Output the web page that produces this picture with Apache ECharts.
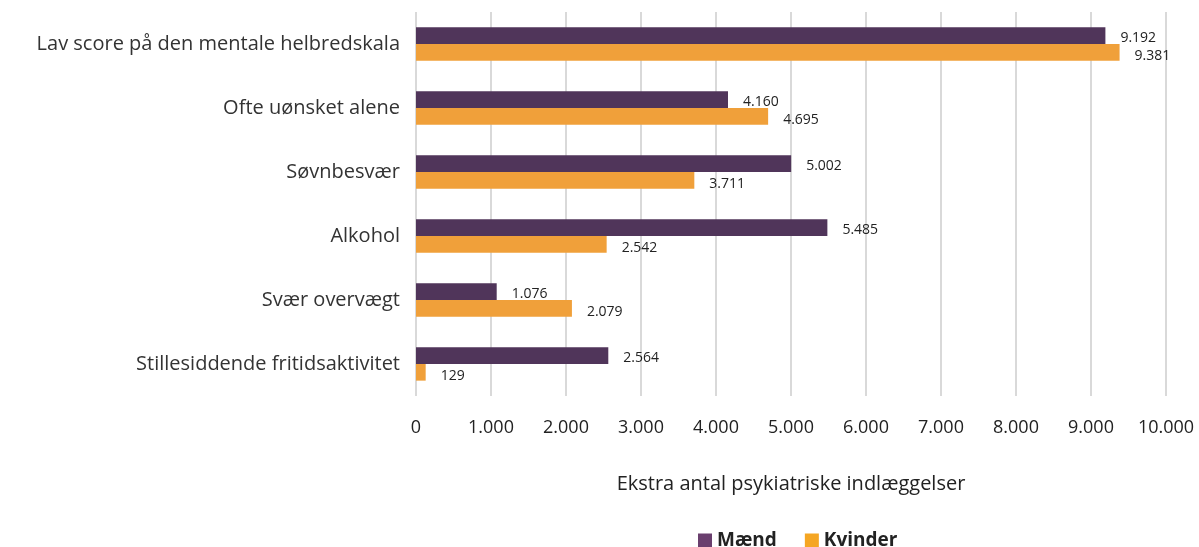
<!DOCTYPE html>
<html>
<head>
<meta charset="utf-8">
<script src="https://cdn.jsdelivr.net/npm/echarts@6/dist/echarts.min.js"></script>
<style>
  html, body { margin: 0; padding: 0; background: #fff; }
  #chart { width: 1199px; height: 547px; }
</style>
</head>
<body>
<div id="chart"></div>
<script>
// data, top to bottom as shown
var categories = [
  'Lav score på den mentale helbredskala',
  'Ofte uønsket alene',
  'Søvnbesvær',
  'Alkohol',
  'Svær overvægt',
  'Stillesiddende fritidsaktivitet'
]
var maend = [9192, 4160, 5002, 5485, 1076, 2564]
var kvinder = [9381, 4695, 3711, 2542, 2079, 129]
var xTicks = [0, 1000, 2000, 3000, 4000, 5000, 6000, 7000, 8000, 9000, 10000]

var fontFam = '"Open Sans", "DejaVu Sans", sans-serif'

function fmt(v) {
  return String(v).replace(/\B(?=(\d{3})+(?!\d))/g, '.')
}

var chart = echarts.init(document.getElementById('chart'))
chart.setOption({
  animation: false,
  textStyle: { fontFamily: fontFam },
  grid: { left: 416, right: 33, top: 12, bottom: 151 },
  legend: {
    top: 526,
    left: 693,
    itemWidth: 14,
    itemHeight: 14,
    itemGap: 28,
    icon: 'rect',
    textStyle: { fontSize: 19, fontWeight: 'bold', color: '#222', fontFamily: fontFam },
    data: [
      { name: 'Mænd', itemStyle: { color: '#6a3f6e' } },
      { name: 'Kvinder', itemStyle: { color: '#f5a623' } }
    ]
  },
  xAxis: {
    type: 'value',
    min: xTicks[0],
    max: xTicks[xTicks.length - 1],
    interval: 1000,
    name: 'Ekstra antal psykiatriske indlæggelser',
    nameLocation: 'middle',
    nameGap: 78,
    nameTextStyle: { fontSize: 20, color: '#222' },
    axisLine: { show: false },
    axisTick: { show: false },
    axisLabel: { fontSize: 18, color: '#222', margin: 23, formatter: fmt },
    splitLine: { lineStyle: { color: '#d9d9d9', width: 2 } }
  },
  yAxis: {
    type: 'category',
    inverse: true,
    data: categories,
    axisLine: { show: false },
    axisTick: { show: false },
    axisLabel: { fontSize: 20, color: '#333', margin: 16 }
  },
  series: [
    {
      name: 'Mænd',
      type: 'bar',
      data: maend,
      barGap: '0%',
      barCategoryGap: '48%',
      itemStyle: { color: '#50355a' },
      label: {
        show: true,
        position: 'right',
        distance: 15,
        offset: [0, 2],
        fontSize: 14,
        color: '#222',
        formatter: function (p) { return fmt(p.value) }
      }
    },
    {
      name: 'Kvinder',
      type: 'bar',
      data: kvinder,
      itemStyle: { color: '#f0a03a' },
      label: {
        show: true,
        position: 'right',
        distance: 15,
        offset: [0, 4],
        fontSize: 14,
        color: '#222',
        formatter: function (p) { return fmt(p.value) }
      }
    }
  ]
})
</script>
</body>
</html>
